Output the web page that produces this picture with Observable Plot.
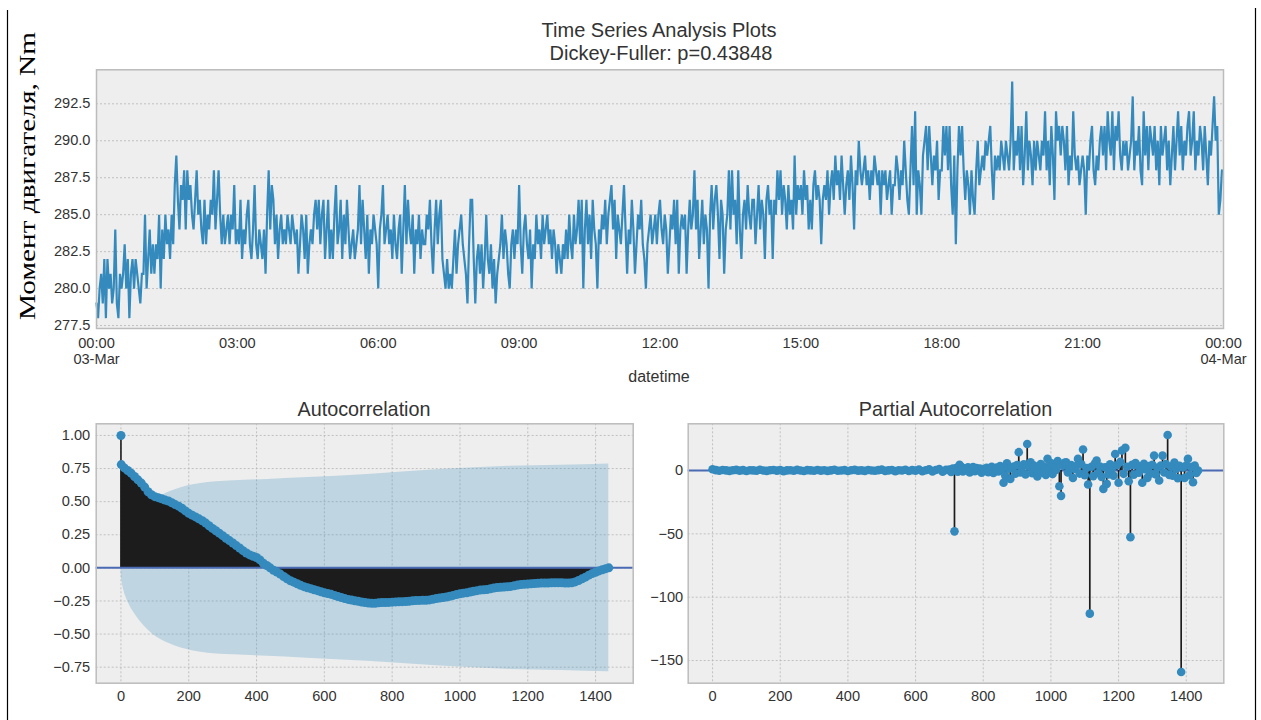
<!DOCTYPE html>
<html>
<head>
<meta charset="utf-8">
<script src="https://cdn.jsdelivr.net/npm/d3@7"></script>
<script src="https://cdn.jsdelivr.net/npm/@observablehq/plot@0.6"></script>
<style>
  body { margin: 0; background: #fff; }
  #page { position: relative; width: 1261px; height: 720px; overflow: hidden; background: #fff; }
</style>
</head>
<body>
<div id="page"></div>
<script>
// Engine torque, one reading every 2 minutes, 03-Mar 00:00 .. 23:58 (one row per hour)
const torque = [
  279,278,280,281,279,282,278,282,280,281, 279,280,284,279,278,281,280,281,283,280, 282,278,281,282,280,282,281,280,279,281,
  281,285,280,282,284,281,283,281,283,282, 285,280,284,282,285,283,284,282,285,283, 287,289,286,284,287,286,288,284,288,286,
  287,285,284,286,288,285,286,284,283,286, 283,285,284,286,285,288,284,286,288,285, 283,285,283,284,285,283,285,284,287,283,
  284,283,286,282,284,283,285,286,283,282, 284,287,283,282,284,283,282,284,281,285, 288,284,287,286,283,285,282,284,285,283,
  284,283,285,284,283,285,284,283,284,281, 283,285,284,282,285,281,283,284,283,285, 286,284,286,283,285,286,282,284,286,282,
  284,282,285,287,283,284,286,282,285,283, 286,284,282,283,284,282,283,284,287,283, 286,284,282,285,281,284,283,285,284,283,
  280,284,285,287,283,284,285,283,284,282, 285,283,282,284,285,281,284,287,283,286, 284,283,285,281,284,283,285,282,284,283,
  283,285,284,286,283,281,284,286,283,285, 286,282,281,280,282,280,281,280,282,284, 281,283,284,285,283,282,281,279,283,286,
  286,282,279,282,283,281,283,280,282,285, 282,281,283,280,282,279,281,282,283,285, 282,284,283,281,280,283,284,282,284,283,
  287,283,281,284,285,283,282,284,280,283, 282,285,283,284,282,285,283,284,285,283, 284,282,284,283,281,283,282,281,283,282,
  284,282,285,283,282,285,283,284,286,283, 286,280,284,286,283,285,282,286,284,283, 280,284,283,285,284,286,283,285,286,287,
  284,286,282,285,284,283,285,287,284,281, 284,283,286,284,281,283,285,284,286,283, 282,280,283,284,285,283,284,285,283,285,
  286,284,283,285,284,281,283,285,284,286, 283,286,281,284,285,284,285,281,284,286, 284,285,288,284,286,282,284,286,283,285,
  284,280,285,287,284,286,287,285,282,286, 285,281,284,285,288,284,288,285,286,283, 288,284,282,285,286,284,287,285,284,286,
  286,283,285,287,284,286,285,282,286,287, 285,286,282,286,285,288,286,288,285,287, 286,284,287,285,286,284,289,285,287,286,
  287,285,288,286,287,284,286,284,287,288, 286,287,286,283,286,287,286,288,285,287, 288,286,289,287,288,286,289,287,285,287,
  288,286,289,287,284,288,287,290,288,287, 288,289,287,288,286,288,287,289,288,287, 288,285,288,287,288,286,287,288,285,287,
  287,289,288,286,288,287,290,288,286,285, 288,291,287,292,285,288,287,285,289,290, 291,288,291,289,287,289,288,290,286,288,
  288,291,289,291,288,291,287,285,289,283, 288,291,289,291,288,286,288,287,285,288, 286,285,288,290,287,288,289,288,290,289,
  290,291,288,286,289,288,289,288,290,289, 288,290,289,288,290,294,288,290,289,291, 288,291,287,289,292,288,290,289,287,290,
  288,290,289,288,290,289,292,288,290,287, 291,289,286,292,290,291,289,291,290,288, 291,287,289,288,292,289,288,289,287,288,
  289,288,285,289,288,290,291,288,287,289, 288,290,291,289,291,288,292,290,289,292, 288,291,290,292,289,288,290,289,290,288,
  289,290,293,288,290,289,291,288,287,292, 289,291,288,291,290,289,291,288,290,287, 291,289,290,291,288,290,287,289,291,288,
  290,292,289,291,288,290,289,291,292,289, 290,292,288,290,289,291,290,288,291,289, 287,290,289,291,293,290,291,285,286,288
];
const sampleMinutes = 2;
const torqueTicks = [277.5, 280, 282.5, 285, 287.5, 290, 292.5];
const timeTickHours = [0, 3, 6, 9, 12, 15, 18, 21, 24];
const timeTickLabels = ["00:00\n03-Mar", "03:00", "06:00", "09:00", "12:00", "15:00", "18:00", "21:00", "00:00\n04-Mar"];

// Autocorrelation at lags 0, 1, 10, 20, ..., 1430, 1439
const acfValues = [
  1.0, 0.78,
  0.755, 0.735, 0.715, 0.69, 0.665, 0.64, 0.61, 0.575, 0.552, 0.538,
  0.53, 0.522, 0.512, 0.505, 0.492, 0.478, 0.466, 0.45, 0.43, 0.412,
  0.398, 0.385, 0.37, 0.356, 0.338, 0.318, 0.298, 0.28, 0.262, 0.243,
  0.224, 0.206, 0.188, 0.168, 0.15, 0.13, 0.112, 0.098, 0.088, 0.078,
  0.06, 0.035, 0.018, 0.0, -0.018, -0.032, -0.047, -0.065, -0.083, -0.097,
  -0.108, -0.12, -0.132, -0.142, -0.15, -0.157, -0.165, -0.172, -0.18, -0.188,
  -0.194, -0.2, -0.208, -0.216, -0.224, -0.232, -0.238, -0.243, -0.248, -0.253,
  -0.258, -0.262, -0.265, -0.267, -0.267, -0.264, -0.262, -0.262, -0.261, -0.259,
  -0.257, -0.256, -0.255, -0.254, -0.252, -0.249, -0.247, -0.246, -0.245, -0.245,
  -0.242, -0.237, -0.232, -0.228, -0.224, -0.22, -0.214, -0.208, -0.201, -0.196,
  -0.191, -0.188, -0.183, -0.177, -0.172, -0.168, -0.165, -0.163, -0.158, -0.152,
  -0.148, -0.146, -0.145, -0.143, -0.14, -0.135, -0.13, -0.126, -0.124, -0.122,
  -0.12, -0.118, -0.116, -0.115, -0.114, -0.114, -0.113, -0.112, -0.112, -0.113,
  -0.115, -0.114, -0.112, -0.106, -0.095, -0.083, -0.07, -0.055, -0.043, -0.033,
  -0.023, -0.014, -0.006,
  0.0
];
const acfLags = [0, 1, ...d3.range(10, 1431, 10), 1439];

// 95% confidence band (half-width around zero)
const bandLags = [0, 1, 3, 8, 18, 39, 69, 110, 160, 231, 333, 434, 536, 739, 942, 1145, 1300, 1439];
const bandHalfWidth = [0, 0.05, 0.1, 0.165, 0.24, 0.34, 0.44, 0.53, 0.59, 0.635, 0.657, 0.668, 0.68, 0.707, 0.742, 0.767, 0.775, 0.785];
const acfTicks = [-0.75, -0.5, -0.25, 0, 0.25, 0.5, 0.75, 1.0];
const lagTicks = [0, 200, 400, 600, 800, 1000, 1200, 1400];

// Partial autocorrelation: lags 0..690 every 10, then 700..1435 every 5
const pacfEarly = [
  1.0, 0.3, -0.2, 0.4, 0.1, -0.3, 0.2, 0.5, -0.1, 0.3,
  -0.4, 0.2, 0.1, -0.2, 0.6, 0.0, -0.3, 0.2, 0.4, -0.1,
  0.3, -0.5, 0.1, 0.2, -0.2, 0.5, 0.0, -0.4, 0.3, 0.1,
  -0.2, 0.4, -0.1, 0.2, -0.3, 0.1, 0.6, -0.2, 0.0, 0.3,
  -0.4, 0.2, 0.5, -0.1, 0.1, -0.3, 0.4, 0.0, -0.2, 0.3,
  0.7, -0.3, 0.1, 0.4, -0.5, 0.2, 0.0, 0.6, -0.4, 0.3,
  -0.1, 0.8, -0.6, 0.2, 0.9, -0.7, 0.4, 1.2, -0.9, 0.5
];
const pacfLate = [
  0.8, -1.2, 1.5, -48, 2.0, -1.0, 4.5, 3.0, -0.8, 1.8,        // 700-745
  0.5, 2.5, -1.5, 1.0, 2.8, -0.6, 2.0, 0.4, 1.6, -1.8,        // 750-795
  1.2, 0.3, 2.2, -1.4, 0.9, 3.0, -2.0, 1.1, 2.4, -0.7,        // 800-845
  3.6, 1.2, -9.7, -4.0, 5.8, 1.5, -6.6, 2.0, 3.2, -2.5,       // 850-895
  4.4, 14.5, -1.5, 2.8, 5.0, -3.0, 21, 3.5, 6.6, -2.2,        // 900-945
  4.0, 1.0, -4.7, 2.5, 5.2, -1.8, 3.0, -3.4, 9.2, 1.6,        // 950-995
  6.0, -2.8, 4.8, 0.5, 7.5, -12.4, -20, 3.8, 6.2, 6.6,        // 1000-1045
  -1.6, 2.4, 4.4, -5.8, 1.3, 3.5, 9.2, -2.4, 5.0, 16.6,       // 1050-1095
  -3.6, 2.0, -11, -113, 3.0, -4.4, 5.6, 7.9, -2.0, 3.2,       // 1100-1145
  -5.0, -14.5, 2.6, -10.5, -3.0, 5.0, 1.4, -4.0, 13, 4.2,     // 1150-1195
  -9.7, 6.8, 15.8, -2.6, 17.9, 3.0, -8.4, -52.6, 4.5, -3.2,   // 1200-1245
  6.0, 4.0, -1.8, 2.6, -9.7, 5.4, 0.8, -5.8, 3.6, -2.4,       // 1250-1295
  4.6, 11.8, -3.0, 2.2, -7.9, 4.0, 11.8, -1.6, 5.2, 28,       // 1300-1345
  -3.4, 3.0, -4.0, 6.4, 1.2, -6.0, 3.8, -159, 2.4, -5.8,      // 1350-1395
  4.0, 9.2, -3.6, 2.8, -9.2, 4.0, -2.0, 0.0                   // 1400-1435
];
const pacfTicks = [-150, -100, -50, 0];

const BLUE = "#348ABD";
const PANEL = "#eeeeee";
const EDGE = "#bcbcbc";
const GRID = "#b5b5b5";
const FONT = "'Liberation Sans', Arial, sans-serif";
const TICK_FS = 14.6;

const page = document.getElementById("page");
function place(svg, left, topPx) {
  svg.style.position = "absolute";
  svg.style.left = left + "px";
  svg.style.top = topPx + "px";
  svg.style.background = "transparent";
  svg.style.maxWidth = "none";
  page.appendChild(svg);
}
const baseStyle = {fontFamily: FONT, fontSize: TICK_FS + "px", color: "#333", background: "transparent"};

// ---- time series panel ----
const t0 = Date.UTC(2021, 2, 3);
const series = torque.map((v, i) => ({t: new Date(t0 + i * sampleMinutes * 60000), v}));
const timeTicks = timeTickHours.map(h => new Date(t0 + h * 3600000));

const seriesPlot = Plot.plot({
  width: 1261, height: 340,
  marginLeft: 96, marginRight: 38, marginTop: 19.3, marginBottom: 62,
  style: baseStyle,
  x: {type: "utc", domain: [timeTicks[0], timeTicks[timeTicks.length - 1]]},
  y: {domain: [277.3, 294.8]},
  marks: [
    Plot.frame({fill: PANEL, stroke: null}),
    Plot.gridY(torqueTicks, {stroke: GRID, strokeOpacity: 1, strokeWidth: 0.8, strokeDasharray: "2,2"}),
    Plot.lineY(series, {x: "t", y: "v", stroke: BLUE, strokeWidth: 2.2, strokeLinejoin: "miter", strokeMiterlimit: 2}),
    Plot.frame({stroke: EDGE, strokeWidth: 1.5}),
    Plot.axisX(timeTicks, {tickSize: 0, tickPadding: 7.4, label: null, fontSize: TICK_FS, lineHeight: 1.145,
      tickFormat: (d, i) => timeTickLabels[i]}),
    Plot.axisY(torqueTicks, {tickSize: 0, tickPadding: 6, label: null, fontSize: TICK_FS, tickFormat: d3.format(".1f")})
  ]
});
place(seriesPlot, 0, 50);

// ---- autocorrelation panel ----
const acf = acfLags.map((lag, i) => ({lag, v: acfValues[i]}));
const band = bandLags.map((lag, i) => ({lag, hw: bandHalfWidth[i]}));

const acfPlot = Plot.plot({
  width: 660, height: 320,
  marginLeft: 95.7, marginRight: 27.3, marginTop: 23.3, marginBottom: 37.3,
  style: baseStyle,
  x: {domain: [-73, 1511]},
  y: {domain: [-0.871, 1.088]},
  marks: [
    Plot.frame({fill: PANEL, stroke: null}),
    Plot.gridX(lagTicks, {stroke: GRID, strokeOpacity: 1, strokeWidth: 0.8, strokeDasharray: "2,2"}),
    Plot.gridY(acfTicks, {stroke: GRID, strokeOpacity: 1, strokeWidth: 0.8, strokeDasharray: "2,2"}),
    Plot.areaY(band, {x: "lag", y1: d => -d.hw, y2: d => d.hw, fill: BLUE, fillOpacity: 0.25, curve: "monotone-x"}),
    Plot.areaY(acf.slice(1), {x: "lag", y1: 0, y2: "v", fill: "#1c1c1c"}),
    Plot.ruleX(acf.slice(0, 1), {x: "lag", y1: 0, y2: "v", stroke: "#1c1c1c", strokeWidth: 1.6}),
    Plot.ruleY([0], {stroke: "#4a6bb4", strokeWidth: 2}),
    Plot.dot(acf, {x: "lag", y: "v", r: 4.5, fill: BLUE, stroke: null}),
    Plot.frame({stroke: EDGE, strokeWidth: 1.5}),
    Plot.axisX(lagTicks, {tickSize: 0, tickPadding: 7.7, label: null, fontSize: TICK_FS, tickFormat: d => String(d)}),
    Plot.axisY(acfTicks, {tickSize: 0, tickPadding: 6, label: null, fontSize: TICK_FS, tickFormat: d3.format(".2f")})
  ]
});
place(acfPlot, 0, 400);

// ---- partial autocorrelation panel ----
const pacf = [
  ...pacfEarly.map((v, i) => ({lag: i * 10, v})),
  ...pacfLate.map((v, i) => ({lag: 700 + i * 5, v}))
];

const pacfPlot = Plot.plot({
  width: 621, height: 320,
  marginLeft: 47.7, marginRight: 37.7, marginTop: 23.3, marginBottom: 37.3,
  style: baseStyle,
  x: {domain: [-72, 1511]},
  y: {domain: [-167.9, 36.9]},
  marks: [
    Plot.frame({fill: PANEL, stroke: null}),
    Plot.gridX(lagTicks, {stroke: GRID, strokeOpacity: 1, strokeWidth: 0.8, strokeDasharray: "2,2"}),
    Plot.gridY(pacfTicks, {stroke: GRID, strokeOpacity: 1, strokeWidth: 0.8, strokeDasharray: "2,2"}),
    Plot.ruleY([0], {stroke: "#4a6bb4", strokeWidth: 2}),
    Plot.ruleX(pacf, {x: "lag", y1: 0, y2: "v", stroke: "#1c1c1c", strokeWidth: 1.7}),
    Plot.dot(pacf, {x: "lag", y: "v", r: 4.3, fill: BLUE, stroke: null}),
    Plot.frame({stroke: EDGE, strokeWidth: 1.5}),
    Plot.axisX(lagTicks, {tickSize: 0, tickPadding: 7.7, label: null, fontSize: TICK_FS, tickFormat: d => String(d)}),
    Plot.axisY(pacfTicks, {tickSize: 0, tickPadding: 5, label: null, fontSize: TICK_FS, tickFormat: d3.format("d")})
  ]
});
place(pacfPlot, 640, 400);

// ---- titles, axis label and page rules ----
const ov = d3.create("svg")
  .attr("width", 1261).attr("height", 720)
  .style("position", "absolute").style("left", "0px").style("top", "0px")
  .style("pointer-events", "none");

ov.append("line").attr("x1", 7.5).attr("x2", 7.5).attr("y1", 10).attr("y2", 720)
  .attr("stroke", "#000").attr("stroke-width", 1.2);
ov.append("line").attr("x1", 1255.5).attr("x2", 1255.5).attr("y1", 8).attr("y2", 720)
  .attr("stroke", "#000").attr("stroke-width", 1.2);

const label = (x, y, text, size, anchor = "middle") => ov.append("text")
  .attr("x", x).attr("y", y).attr("text-anchor", anchor)
  .attr("font-family", FONT).attr("font-size", size).attr("fill", "#333").text(text);

label(659, 36.7, "Time Series Analysis Plots", 20);
label(661, 60, "Dickey-Fuller: p=0.43848", 20);
label(659, 382, "datetime", 16);
label(364, 416, "Autocorrelation", 19.8);
label(955.5, 416, "Partial Autocorrelation", 19.8);

ov.append("text")
  .attr("transform", "translate(34.5,176) rotate(-90)")
  .attr("text-anchor", "middle")
  .attr("font-family", "'Liberation Serif', 'Times New Roman', serif")
  .attr("font-size", 23.5)
  .attr("fill", "#000")
  .attr("textLength", 288)
  .attr("lengthAdjust", "spacingAndGlyphs")
  .text("Момент двигателя, Nm");

page.appendChild(ov.node());
</script>
</body>
</html>
